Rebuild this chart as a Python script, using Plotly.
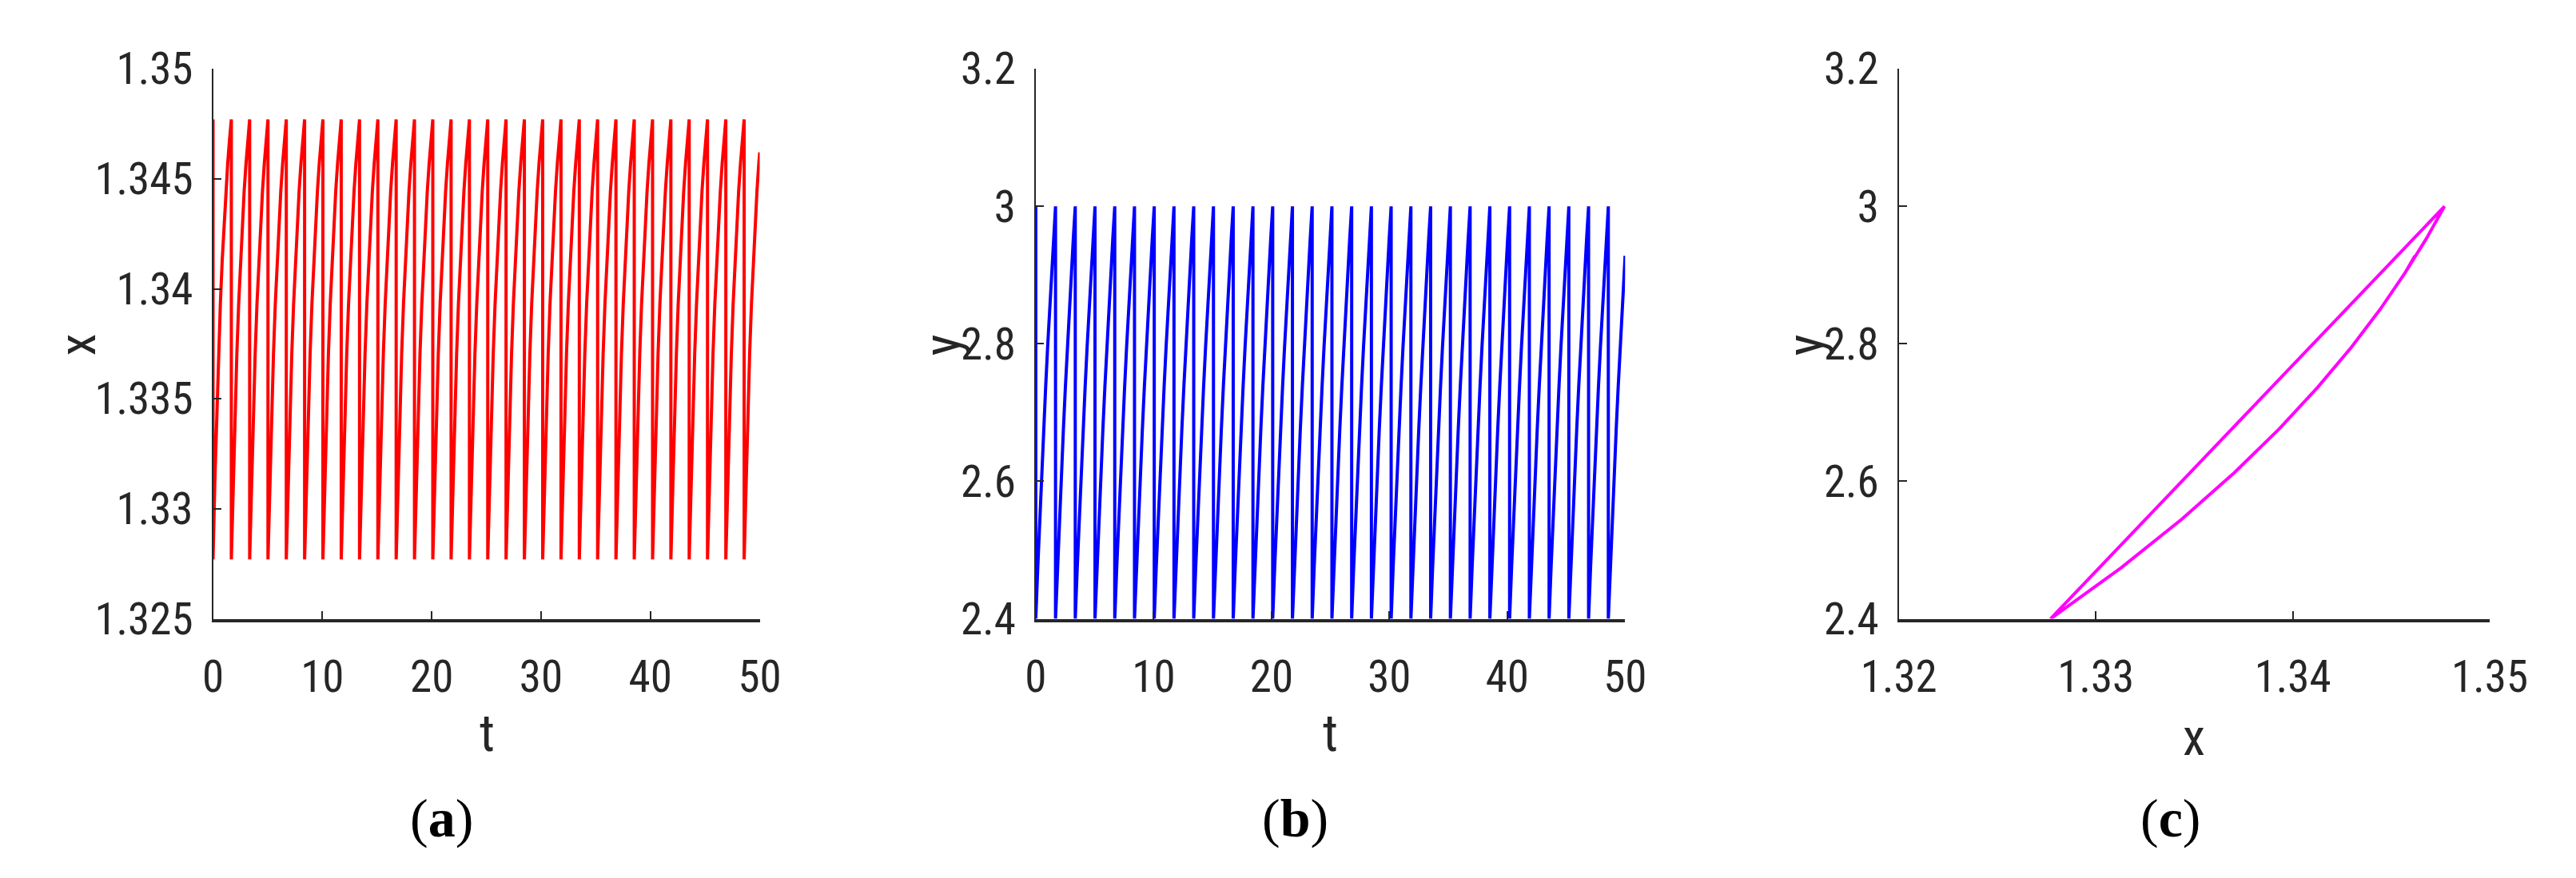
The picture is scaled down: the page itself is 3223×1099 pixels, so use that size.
import plotly.graph_objects as go
from plotly.subplots import make_subplots

# one cycle of the slow rise (phase 0 = just after the reset, 1 = top)
cycle_phase = [0.0, 0.1, 0.2, 0.3, 0.4, 0.5, 0.6, 0.7, 0.8, 0.9, 1.0]
cycle_x = [1.3277, 1.33129, 1.33437, 1.33703, 1.33932, 1.34128,
           1.34298, 1.34444, 1.34569, 1.34677, 1.3477]
cycle_y = [2.400, 2.4743, 2.5451, 2.6124, 2.6764, 2.7373,
           2.7952, 2.8503, 2.9027, 2.9525, 3.000]

# times of the resets (a)/(b)
jump_times = [0.0, 1.675, 3.35, 5.025, 6.70, 8.375, 10.05, 11.725, 13.40,
              15.075, 16.75, 18.425, 20.10, 21.775, 23.45, 25.125, 26.80,
              28.475, 30.15, 31.825, 33.50, 35.175, 36.85, 38.525, 40.20,
              41.875, 43.55, 45.225, 46.90, 48.575, 50.25]

t_end = 50.0
x_end = 1.3462
y_end = 2.928

x_ticks = [1.325, 1.33, 1.335, 1.34, 1.345, 1.35]
x_ticklabels = ["1.325", "1.33", "1.335", "1.34", "1.345", "1.35"]
y_ticks = [2.4, 2.6, 2.8, 3.0, 3.2]
y_ticklabels = ["2.4", "2.6", "2.8", "3", "3.2"]
t_ticks = [0, 10, 20, 30, 40, 50]
xc_ticks = [1.32, 1.33, 1.34, 1.35]
xc_ticklabels = ["1.32", "1.33", "1.34", "1.35"]

# build the time series from the cycle table
t_vals = [0.0]
x_vals = [cycle_x[-1]]
y_vals = [cycle_y[-1]]
for k in range(len(jump_times) - 1):
    t0, t1 = jump_times[k], jump_times[k + 1]
    for p, cx, cy in zip(cycle_phase, cycle_x, cycle_y):
        t = t0 + p * (t1 - t0)
        if t > t_end:
            break
        t_vals.append(t)
        x_vals.append(cx)
        y_vals.append(cy)
t_vals.append(t_end)
x_vals.append(x_end)
y_vals.append(y_end)

W, H = 3223, 1099
fig = make_subplots(rows=1, cols=3)

fig.add_trace(go.Scatter(x=t_vals, y=x_vals, mode="lines",
                         line=dict(color="#FF0000", width=4)), row=1, col=1)
fig.add_trace(go.Scatter(x=t_vals, y=y_vals, mode="lines",
                         line=dict(color="#0000FF", width=4)), row=1, col=2)
fig.add_trace(go.Scatter(x=x_vals, y=y_vals, mode="lines",
                         line=dict(color="#FF00FF", width=4)), row=1, col=3)

ink = "#262626"
sans = ("Liberation Sans Narrow, Arial Narrow, Noto Sans Condensed, "
        "Roboto Condensed, Liberation Sans, Arial")
tickfont = dict(family=sans, size=55, color=ink)
common = dict(showline=True, linecolor=ink, ticks="inside", ticklen=10,
              tickwidth=2, tickcolor=ink, showgrid=False, zeroline=False,
              tickfont=tickfont)

px_x = lambda v: v / W
px_y = lambda v: 1 - v / H

doms = [(217, 922), (1278, 2038), (2391, 3153)]
ydom = [px_y(780), px_y(49)]

fig.update_xaxes(common, linewidth=3.5, ticklabelstandoff=22)
fig.update_yaxes(common, linewidth=2, ticklabelstandoff=12)

fig.update_layout(
    xaxis=dict(domain=[px_x(doms[0][0]), px_x(doms[0][1])], range=[0, 50],
               tickvals=t_ticks),
    yaxis=dict(domain=ydom, range=[1.325, 1.35], tickvals=x_ticks,
               ticktext=x_ticklabels),
    xaxis2=dict(domain=[px_x(doms[1][0]), px_x(doms[1][1])], range=[0, 50],
                tickvals=t_ticks),
    yaxis2=dict(domain=ydom, range=[2.4, 3.2], tickvals=y_ticks,
                ticktext=y_ticklabels),
    xaxis3=dict(domain=[px_x(doms[2][0]), px_x(doms[2][1])], range=[1.32, 1.35],
                tickvals=xc_ticks, ticktext=xc_ticklabels),
    yaxis3=dict(domain=ydom, range=[2.4, 3.2], tickvals=y_ticks,
                ticktext=y_ticklabels),
)

titlefont = dict(family=sans, size=64, color=ink)
capfont = dict(family="Liberation Serif, Times New Roman, serif", size=68,
               color="#000000")

labels = [
    ("x", 43, 416, -90, titlefont),
    ("y", 1158, 416, -90, titlefont),
    ("y", 2271, 416, -90, titlefont),
    ("t", 570, 933, 0, titlefont),
    ("t", 1658, 933, 0, titlefont),
    ("x", 2772, 938, 0, titlefont),
    ("(<b>a</b>)", 512, 1045, 0, capfont),
    ("(<b>b</b>)", 1613, 1045, 0, capfont),
    ("(<b>c</b>)", 2742, 1045, 0, capfont),
]
for txt, lx, ly, ang, f in labels:
    fig.add_annotation(text=txt, x=px_x(lx), y=px_y(ly), xref="paper",
                       yref="paper", showarrow=False, textangle=ang, font=f,
                       xanchor="center", yanchor="middle")

fig.update_layout(width=W, height=H, margin=dict(l=0, r=0, t=0, b=0),
                  paper_bgcolor="white", plot_bgcolor="white",
                  showlegend=False)

fig.write_html("out.html")
